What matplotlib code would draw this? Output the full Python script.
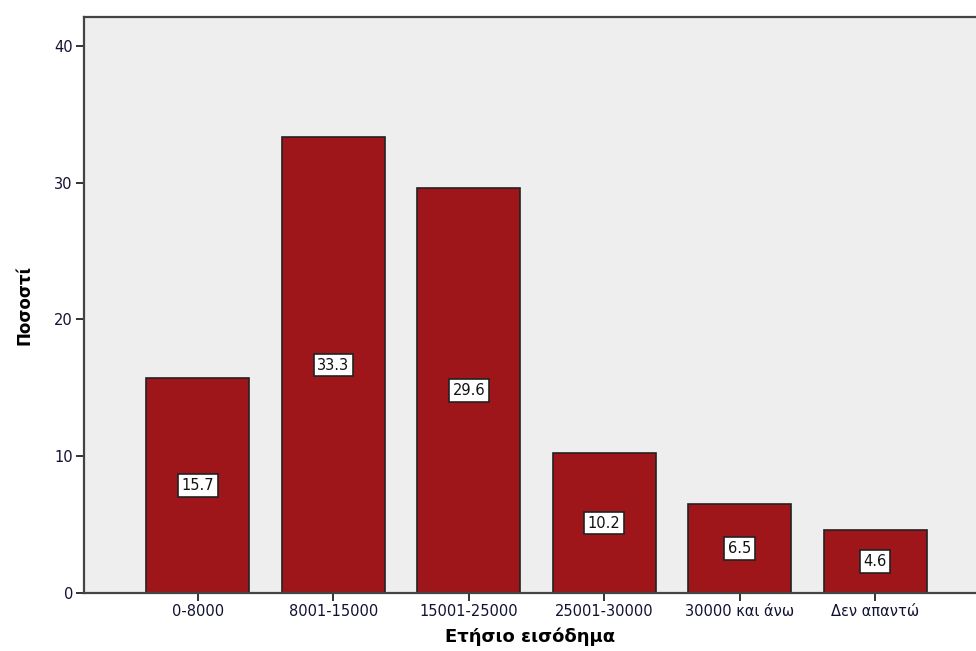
import matplotlib
matplotlib.use("Agg")
import matplotlib.pyplot as plt

# Ετήσιο εισόδημα - ποσοστά
categories = ["0-8000", "8001-15000", "15001-25000", "25001-30000", "30000 και άνω", "Δεν απαντώ"]
percent = [15.7, 33.3, 29.6, 10.2, 6.5, 4.6]

plt.rcParams['font.family'] = ['DejaVu Sans']

fig = plt.figure(figsize=(9.76, 6.51), dpi=100)
ax = fig.add_axes([0.0861, 0.0891, 0.9139, 0.8848])
ax.set_facecolor("#eeeeee")

x = range(len(categories))
ax.bar(x, percent, width=0.76, color="#9e1619", edgecolor="#222222", linewidth=1.2, zorder=2)

for i, v in zip(x, percent):
    ax.text(i, v / 2, f"{v:.1f}", ha="center", va="center", fontsize=10.5, color="#111111",
            bbox=dict(boxstyle="square,pad=0.25", facecolor="white", edgecolor="#222222", linewidth=1.2),
            zorder=3)

ax.set_xlim(-0.84, 5.745)
ax.set_ylim(0, 42.1)
ax.set_yticks([0, 10, 20, 30, 40])
ax.set_xticks(list(x))
ax.set_xticklabels(categories)

for side in ["left", "top", "bottom"]:
    ax.spines[side].set_color("#444444")
    ax.spines[side].set_linewidth(1.6)
ax.spines["right"].set_visible(False)

ax.tick_params(axis="both", length=6, width=1.4, color="#333333", labelsize=10.5, labelcolor="#111133", pad=2)

ax.set_ylabel("Ποσοστί", fontsize=12, fontweight="bold", labelpad=15)
ax.set_xlabel("Ετήσιο εισόδημα", fontsize=13, fontweight="bold", labelpad=6)

fig.savefig("out.png", dpi=100)
